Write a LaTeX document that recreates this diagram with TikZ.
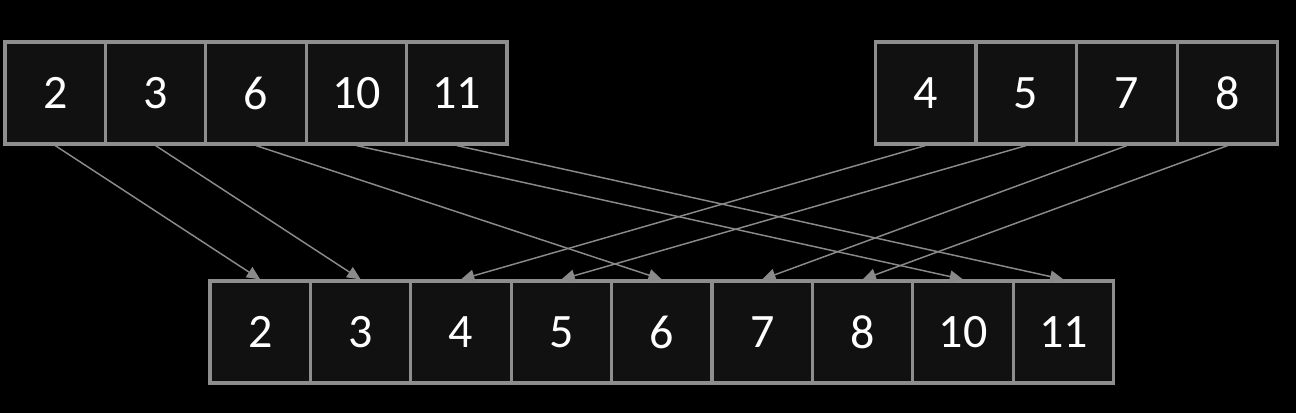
\documentclass[tikz,border=0pt]{standalone}
\usepackage{fontspec}
\setmainfont{Carlito}
\usetikzlibrary{arrows.meta}
\definecolor{cellfill}{HTML}{111111}
\definecolor{cellborder}{HTML}{8E8E8E}
\definecolor{arrowcol}{HTML}{8A8A8A}
\begin{document}
\begin{tikzpicture}[x=0.75pt,y=-0.75pt,
  cell/.style={draw=cellborder, fill=cellfill, line width=2.4pt, minimum width=75.3pt, minimum height=76.5pt, inner sep=0pt, text=white, font=\fontsize{36}{40}\selectfont},
  link/.style={draw=arrowcol, line width=1.1pt, -{Triangle[length=10pt,width=9pt]}}]
\fill[black] (0,0) rectangle (1296,413);
\useasboundingbox (0,0) rectangle (1296,413);
% top-left array
\foreach \v [count=\i] in {2,3,6,10,11} {
  \node[cell] (L\i) at ({55.2+100.4*(\i-1)},93) {\raisebox{-1.5pt}{\v}};
}
% top-right array
\foreach \v [count=\i] in {4,5,7,8} {
  \node[cell] (R\i) at ({925.4+100.75*(\i-1)},93) {\raisebox{-1.5pt}{\v}};
}
% bottom array
\foreach \v [count=\i] in {2,3,4,5,6,7,8,10,11} {
  \node[cell] (B\i) at ({260.2+100.4*(\i-1)},332) {\raisebox{-1.5pt}{\v}};
}
\draw[link] (L1.south) -- (B1.north);
\draw[link] (L2.south) -- (B2.north);
\draw[link] (L3.south) -- (B5.north);
\draw[link] (L4.south) -- (B8.north);
\draw[link] (L5.south) -- (B9.north);
\draw[link] (R1.south) -- (B3.north);
\draw[link] (R2.south) -- (B4.north);
\draw[link] (R3.south) -- (B6.north);
\draw[link] (R4.south) -- (B7.north);
\end{tikzpicture}
\end{document}
